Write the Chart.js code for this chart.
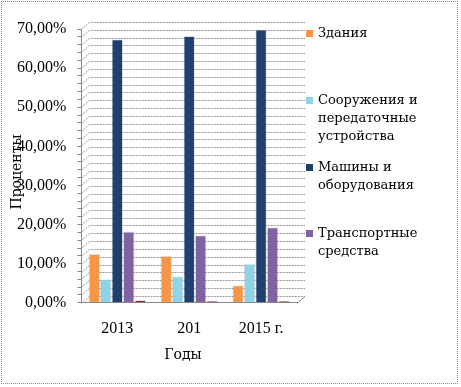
<!DOCTYPE html>
<html>
<head>
<meta charset="utf-8">
<script src="https://cdn.jsdelivr.net/npm/chart.js@4"></script>
<style>
  body { margin:0; background:#fff; }
  #wrap { position:relative; width:461px; height:387px; font-family:"DejaVu Serif", "Liberation Serif", serif; font-size:14px; color:#000; }
  #frame { position:absolute; left:1px; top:1px; width:457px; height:383px; border:1px dotted #888; box-sizing:border-box; }
  #ytitle { position:absolute; left:16px; top:172px; transform:translate(-50%,-50%) rotate(-90deg); white-space:nowrap; }
  #xtitle { position:absolute; left:183px; top:354px; transform:translate(-50%,-50%); }
  #legend { position:absolute; left:306px; top:0; line-height:18px; font-size:13px; }
  .item { position:absolute; left:0; white-space:nowrap; }
  .sw { position:absolute; left:0; top:6px; width:7px; height:7px; }
  .txt { position:absolute; left:12px; top:0; }
</style>
</head>
<body>
<div id="wrap">
  <canvas id="chart" width="461" height="387"></canvas>
  <div id="frame"></div>
  <div id="ytitle">Проценты</div>
  <div id="xtitle">Годы</div>
  <div id="legend"></div>
</div>
<script>

const years = ["2013", "201", "2015 г."]

const buildings = [12.5, 12.0, 4.5]
const structures = [6.0, 6.8, 10.0]
const machines = [67.4, 68.2, 69.9]
const transport = [18.2, 17.3, 19.3]
const other = [0.7, 0.6, 0.6]

const names = ["Здания", "Сооружения и\nпередаточные\nустройства", "Машины и\nоборудования", "Транспортные\nсредства", ""]
const colors = ["#F79646", "#8FD3E6", "#1F3F6E", "#8064A2", "#8E2A24"]
const legendTops = [24, 91, 158, 224]

const series = [buildings, structures, machines, transport, other]

// back wall gridlines with a small depth offset, like the 3D original
const wall = {
    id:"wall",
    beforeDatasetsDraw(c){
        const {ctx, chartArea:a, scales:{y}} = c
        const dx = 8, dy = 7
        ctx.save()
        ctx.strokeStyle = "#999"
        ctx.lineWidth = 1
        ctx.setLineDash([2,1])
        y.ticks.forEach(t => {
            const py = Math.round(y.getPixelForValue(t.value)) + 0.5
            ctx.beginPath()
            ctx.moveTo(a.left, py)
            ctx.lineTo(a.left + dx, py - dy)
            ctx.lineTo(a.right + dx, py - dy)
            ctx.stroke()
        })
        ctx.setLineDash([])
        ctx.strokeStyle = "#888"
        const py0 = Math.round(y.getPixelForValue(0)) + 0.5
        ctx.beginPath()
        ctx.moveTo(a.right, py0)
        ctx.lineTo(a.right + dx, py0 - dy)
        ctx.stroke()
        ctx.restore()
    }
}

const ctx = document.getElementById("chart")

const chart = new Chart(ctx,{
    type:"bar",
    data:{
        labels:years,
        datasets:series.map((s,i) => ({
            label:names[i],
            data:s,
            backgroundColor:colors[i],
            borderColor:"rgba(0,0,0,0.12)",
            borderWidth:1
        }))
    },
    options:{
        responsive:false,
        animation:false,
        devicePixelRatio:1,
        layout:{ padding:{ left:6, right:164, top:29, bottom:41 } },
        plugins:{ legend:{ display:false }, tooltip:{ enabled:false } },
        datasets:{ bar:{ categoryPercentage:0.8, barPercentage:1 } },
        scales:{
            x:{
                grid:{ display:false },
                border:{ color:"#888" },
                ticks:{ color:"#000", font:{ family:"'Liberation Serif', 'DejaVu Serif', serif", size:16 }, padding:8 }
            },
            y:{
                min:0,
                max:70,
                border:{ color:"#888" },
                grid:{ drawOnChartArea:false, color:"#888", tickLength:4 },
                ticks:{
                    stepSize:2,
                    autoSkip:false,
                    color:"#000",
                    padding:11,
                    font:{ family:"'Liberation Serif', serif", size:16 },
                    callback:v => v % 10 === 0 ? v.toFixed(2).replace(".", ",") + "%" : ""
                }
            }
        }
    },
    plugins:[wall]
})

const legend = document.getElementById("legend")
names.slice(0,4).forEach((n,i) => {
    const d = document.createElement("div")
    d.className = "item"
    d.style.top = legendTops[i] + "px"
    d.innerHTML = `<span class="sw" style="background:${colors[i]}"></span><span class="txt">${n.replace(/\n/g,"<br>")}</span>`
    legend.appendChild(d)
})

</script>
</body>
</html>
